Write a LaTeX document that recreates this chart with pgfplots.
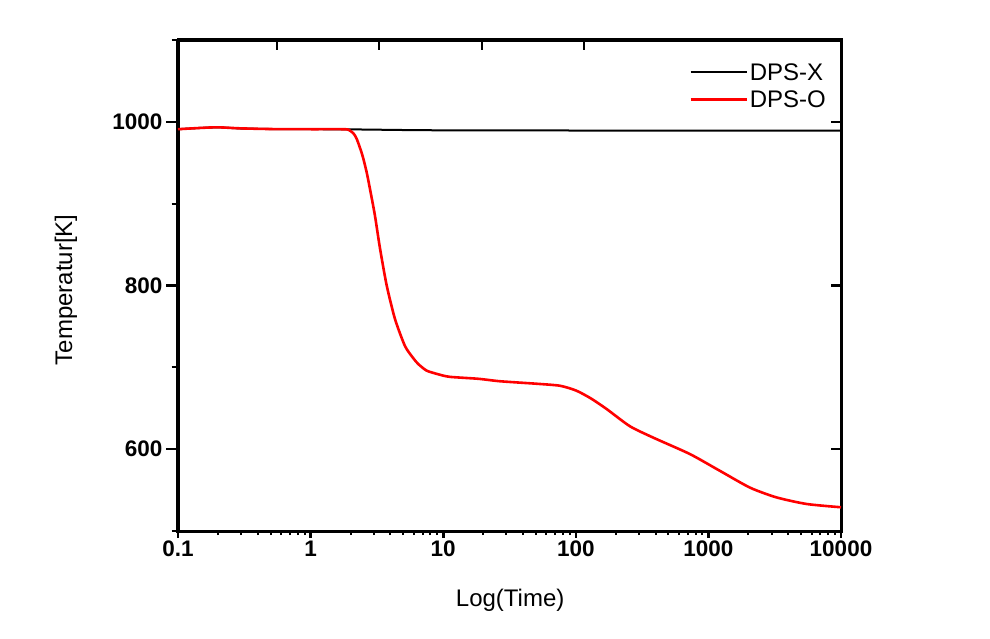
\documentclass[border=0pt]{standalone}
\usepackage{fontspec}
\setmainfont{Liberation Sans}
\usepackage{pgfplots}
\pgfplotsset{compat=1.18}

\pgfplotsset{
  myframe/.style={
    scale only axis, width=663pt, height=491pt,
    at={(178pt,107pt)}, anchor=south west,
    ymin=500, ymax=1100,
    axis line style={line width=3pt, black},
    major tick style={line width=2.6pt, black},
    minor tick style={line width=2pt, black},
  },
  ticklab/.style={tick label style={font=\fontsize{22.5}{26}\selectfont\bfseries}},
}

\begin{document}
\begin{tikzpicture}
\useasboundingbox (0pt,0pt) rectangle (990pt,638pt);

% y ticks, left, outward
\begin{axis}[myframe, ticklab,
  xmin=0, xmax=1, xtick=\empty,
  ytick={600,800,1000}, yticklabels={600,800,1000},
  minor ytick={500,700,900,1100},
  ytick pos=left, tick align=outside,
  major tick length=12pt, minor tick length=6.5pt]
\end{axis}

% top and right, inward
\begin{axis}[myframe,
  xmin=0, xmax=663, xtick={99,201,304,406},
  ytick={600,800,1000},
  xticklabels={}, yticklabels={},
  xtick pos=right, ytick pos=right, tick align=inside,
  major tick length=10pt]
\end{axis}

% data
\begin{axis}[myframe, ticklab,
  xmode=log, xmin=0.1, xmax=10000,
  xtick={0.1,1,10,100,1000,10000},
  xticklabels={0.1,1,10,100,1000,10000},
  minor xtick={0.2,0.3,0.4,0.5,0.6,0.7,0.8,0.9,
    2,3,4,5,6,7,8,9,20,30,40,50,60,70,80,90,
    200,300,400,500,600,700,800,900,
    2000,3000,4000,5000,6000,7000,8000,9000},
  xtick pos=left, ytick=\empty, tick align=outside,
  major tick length=6.5pt, minor tick length=4pt,
  xlabel={Log(Time)}, ylabel={Temperatur[K]},
  label style={font=\fontsize{24}{28}\selectfont},
  xlabel style={at={(axis description cs:0.501,-0.1405)}, anchor=center},
  ylabel style={at={(axis description cs:-0.169,0.491)}, anchor=center},
  legend style={draw=none, fill=none, at={(axis description cs:0.985,0.961)},
    anchor=north east, font=\fontsize{24}{28}\selectfont, row sep=5pt,
    nodes={inner sep=2pt}},
  legend cell align=left,
  legend image code/.code={\draw[#1] (0pt,0pt) -- (56pt,0pt);},
]
\addplot[black, line width=2pt] coordinates {
  (0.1,991) (0.15,992.6) (0.2,993.3) (0.3,991.8) (0.5,991.2) (1,991)
  (2,990.8) (5,990) (10,989.6) (100,989.4) (1000,989.4) (10000,989.4)
};
\addlegendentry{DPS-X}
\addplot[red, line width=2.6pt, smooth, tension=0.4] coordinates {
  (0.1,991) (0.15,992.6) (0.2,993.3) (0.3,992) (0.5,991.2) (1,991)
  (1.7,991) (1.92,990.5) (2.1,986) (2.23,979) (2.45,960) (2.65,938)
  (2.85,912) (3.06,885) (3.34,845) (3.75,800) (4.33,759)
  (5.15,726) (5.96,711) (6.49,704) (7.5,696) (9.18,691.5) (11.2,688.4)
  (18.4,686) (26.8,683) (50,680) (76,677.5) (101,671.5) (130,662)
  (171,649) (256,628) (385,614) (726,594) (1222,573.5) (2059,553)
  (3273,541) (5510,533) (10000,529)
};
\addlegendentry{DPS-O}
\end{axis}
\end{tikzpicture}
\end{document}
